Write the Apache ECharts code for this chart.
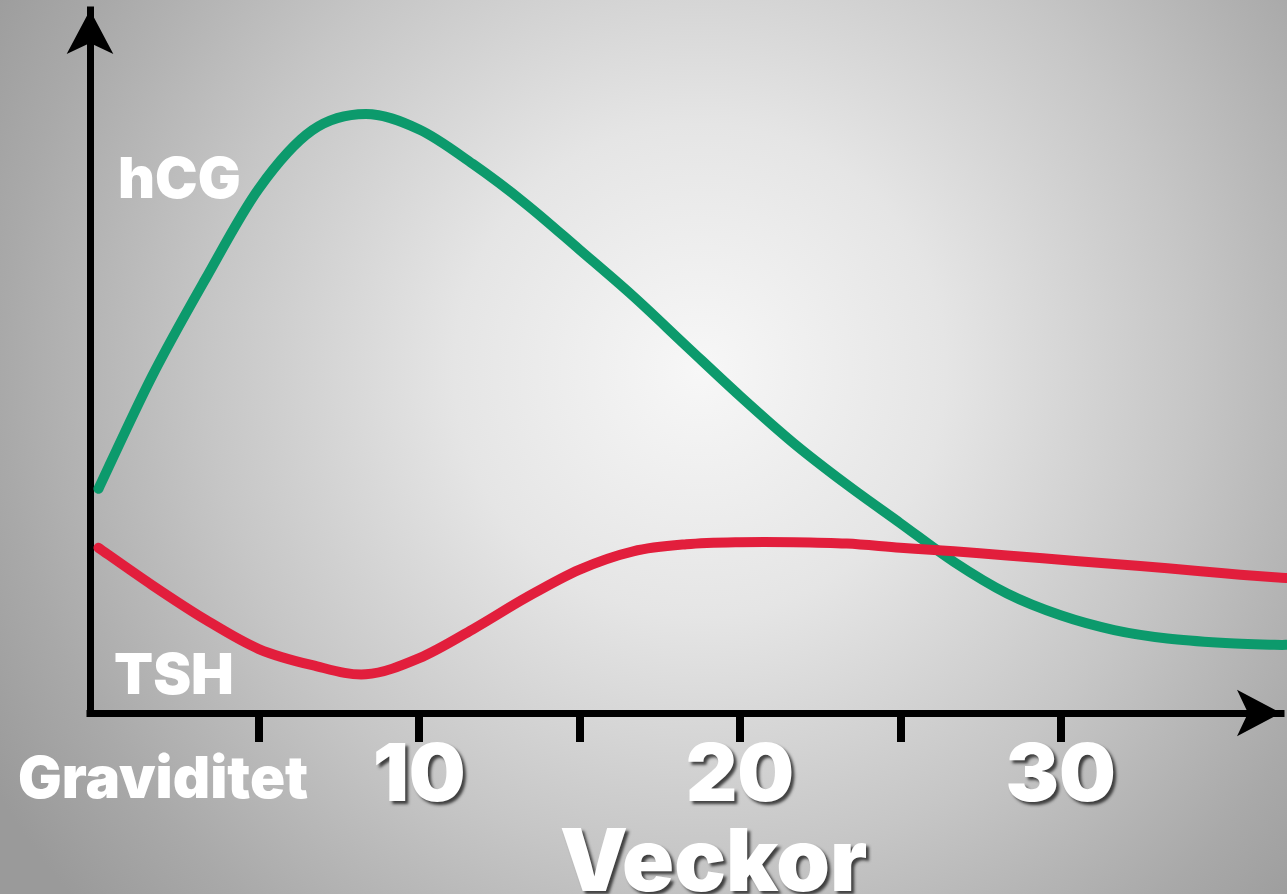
<!DOCTYPE html>
<html>
<head>
<meta charset="utf-8">
<script src="https://cdn.jsdelivr.net/npm/echarts@6/dist/echarts.min.js"></script>
<style>
html,body{margin:0;padding:0;width:1287px;height:894px;overflow:hidden;}
#chart{width:1287px;height:894px;}
</style>
</head>
<body>
<div id="chart"></div>
<script>
// ---- data (weeks of pregnancy, relative level) ----
const weeks     = [0, 1.67, 3.33, 5, 6.67, 8.33, 10, 11.67, 13.33, 15, 16.67, 18.33, 20, 21.67, 23.33, 25, 26.67, 28.33, 30, 31.67, 33.33, 35, 36.67, 37.06];
const hcgValues = [31.9, 47.9, 61.7, 74.6, 82.9, 85.2, 83.0, 78.1, 72.4, 65.9, 59.3, 52.2, 45.1, 38.4, 32.5, 27.0, 21.5, 17.0, 13.9, 11.8, 10.6, 10.0, 9.7, 9.7];
const tshValues = [23.5, 18.2, 13.3, 9.1, 6.8, 5.5, 7.8, 11.9, 16.4, 20.4, 23.0, 24.0, 24.3, 24.3, 24.1, 23.5, 23.0, 22.4, 21.8, 21.2, 20.6, 19.9, 19.3, 19.2];
const tickWeeks  = [5, 10, 15, 20, 25, 30];
const labelWeeks = [10, 20, 30];
const seriesNames = ['hCG', 'TSH'];
const seriesColors = ['#0c9a6c', '#e21e3c'];
const xTitle = 'Veckor';
const xSubTitle = 'Graviditet';

const FONT = 'Inter';
const shadow = {textShadowColor: 'rgba(30,30,30,0.8)', textShadowBlur: 3, textShadowOffsetX: 3, textShadowOffsetY: 3};
const gShadow = {shadowColor: 'rgba(30,30,30,0.8)', shadowBlur: 3, shadowOffsetX: 3, shadowOffsetY: 3};

// smooth curve (Catmull-Rom) through the data points, positioned by the chart's own axes
function smoothCurve(values, color) {
  const data = weeks.map((w, i) => [w, values[i]]);
  return function (params, api) {
    if (params.dataIndex !== 0) return null;
    const p = data.map(d => api.coord(d));
    let d = 'M' + p[0][0] + ' ' + p[0][1];
    for (let i = 0; i < p.length - 1; i++) {
      const p0 = p[Math.max(i - 1, 0)], p1 = p[i], p2 = p[i + 1], p3 = p[Math.min(i + 2, p.length - 1)];
      const c1x = p1[0] + (p2[0] - p0[0]) / 6, c1y = p1[1] + (p2[1] - p0[1]) / 6;
      const c2x = p2[0] - (p3[0] - p1[0]) / 6, c2y = p2[1] - (p3[1] - p1[1]) / 6;
      d += ' C' + c1x + ' ' + c1y + ' ' + c2x + ' ' + c2y + ' ' + p2[0] + ' ' + p2[1];
    }
    return {type: 'path', shape: {pathData: d}, style: {stroke: color, lineWidth: 10, fill: 'none', lineCap: 'round', lineJoin: 'round'}};
  };
}

const chart = echarts.init(document.getElementById('chart'), null, {renderer: 'canvas'});
const option = {
  animation: false,
  backgroundColor: {
    type: 'radial', x: 700, y: 370, r: 820, global: true,
    colorStops: [
      {offset: 0, color: '#f7f7f7'},
      {offset: 0.3, color: '#e5e5e5'},
      {offset: 0.6, color: '#c6c6c6'},
      {offset: 0.85, color: '#a9a9a9'},
      {offset: 1, color: '#9a9a9a'}
    ]
  },
  grid: {left: 90, right: 6, top: 10, bottom: 181, outerBoundsMode: 'none', containLabel: false},
  xAxis: {
    type: 'value', min: -0.265, max: 36.87,
    axisLine: {show: true, onZero: false, symbol: ['none', 'arrow'], symbolSize: [35, 44], lineStyle: {color: '#000', width: 7, cap: 'square'}},
    axisTick: {show: true, customValues: tickWeeks, length: 29, lineStyle: {color: '#000', width: 8}},
    axisLabel: {show: true, customValues: labelWeeks, margin: 24, fontFamily: FONT, fontWeight: 900, fontSize: 80, lineHeight: 80, color: '#fff', ...shadow},
    splitLine: {show: false},
    name: xTitle, nameLocation: 'middle', nameGap: 105,
    nameTextStyle: {fontFamily: FONT, fontWeight: 900, fontSize: 86, color: '#fff', padding: [0, 0, 0, 56], ...shadow}
  },
  yAxis: {
    type: 'value', min: 0, max: 100,
    axisLine: {show: true, onZero: false, symbol: ['none', 'arrow'], symbolSize: [35, 44], lineStyle: {color: '#000', width: 7, cap: 'square'}},
    axisTick: {show: false}, axisLabel: {show: false}, splitLine: {show: false}
  },
  graphic: [
    {type: 'text', left: 118, top: 152, z: 10, style: {text: seriesNames[0], fontFamily: FONT, fontWeight: 900, fontSize: 57, fill: '#fff', ...gShadow}},
    {type: 'text', left: 114, top: 648, z: 10, style: {text: seriesNames[1], fontFamily: FONT, fontWeight: 900, fontSize: 57, fill: '#fff', ...gShadow}},
    {type: 'text', left: 18, top: 752, z: 10, style: {text: xSubTitle, fontFamily: FONT, fontWeight: 900, fontSize: 58, fill: '#fff', ...gShadow}}
  ],
  series: [
    {
      name: seriesNames[0], type: 'custom', clip: false, z: 3,
      data: weeks.map((w, i) => [w, hcgValues[i]]),
      encode: {x: 0, y: 1},
      renderItem: smoothCurve(hcgValues, seriesColors[0])
    },
    {
      name: seriesNames[1], type: 'custom', clip: false, z: 4,
      data: weeks.map((w, i) => [w, tshValues[i]]),
      encode: {x: 0, y: 1},
      renderItem: smoothCurve(tshValues, seriesColors[1])
    }
  ]
};
chart.setOption(option);
</script>
</body>
</html>
